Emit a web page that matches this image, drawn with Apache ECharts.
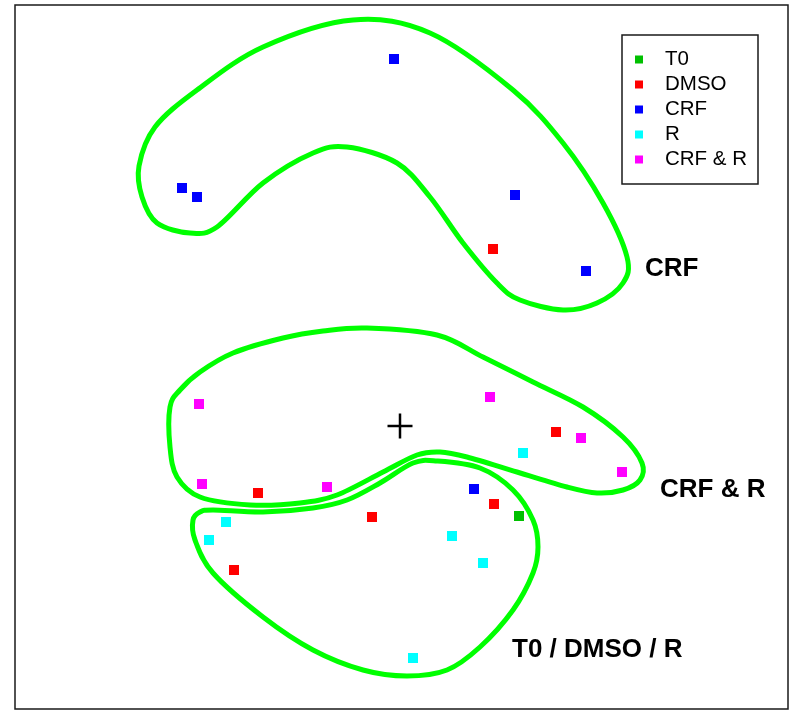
<!DOCTYPE html>
<html>
<head>
<meta charset="utf-8">
<script src="https://cdn.jsdelivr.net/npm/echarts@6/dist/echarts.min.js"></script>
<style>html,body{margin:0;padding:0;background:#fff}#c{width:794px;height:711px}</style>
</head>
<body>
<div id="c"></div>
<script>
// Group names (legend)
const groups = ['T0', 'DMSO', 'CRF', 'R', 'CRF & R'];
const groupColors = ['#00C000', '#FF0000', '#0000FF', '#00FFFF', '#FF00FF'];

// Sample scores [PC1, PC2]
const t0Points = [[1.19, -0.90]];
const dmsoPoints = [[0.93, 1.77], [1.56, -0.06], [-1.42, -0.67], [0.94, -0.78], [-0.28, -0.91], [-1.66, -1.44]];
const crfPoints = [[-0.06, 3.67], [-2.18, 2.38], [-2.03, 2.29], [1.15, 2.31], [1.86, 1.55], [0.74, -0.63]];
const rPoints = [[1.23, -0.27], [-1.74, -0.96], [-1.91, -1.14], [0.52, -1.10], [0.83, -1.37], [0.13, -2.32]];
const crfRPoints = [[-2.01, 0.22], [0.90, 0.29], [1.81, -0.12], [2.22, -0.46], [-1.98, -0.58], [-0.73, -0.61]];

// Origin marker
const originPoint = [[0, 0]];

// Hand-drawn group outlines (data units)
const crfOutline = [[-0.47,4.06],[0.30,3.93],[1.13,3.36],[1.63,2.83],[2.03,2.23],[2.27,1.69],[2.23,1.43],[1.97,1.23],[1.63,1.16],[1.20,1.26],[0.97,1.43],[0.63,1.83],[0.30,2.29],[-0.03,2.63],[-0.53,2.79],[-0.87,2.73],[-1.37,2.43],[-1.83,1.99],[-2.10,1.93],[-2.43,2.03],[-2.58,2.29],[-2.61,2.60],[-2.45,2.99],[-2.03,3.36],[-1.37,3.79]];
const crfROutline = [[-0.33,0.98],[0.37,0.91],[0.83,0.69],[1.33,0.44],[1.83,0.19],[2.23,-0.11],[2.42,-0.37],[2.40,-0.54],[2.23,-0.64],[1.97,-0.67],[1.67,-0.61],[1.17,-0.46],[0.67,-0.31],[0.40,-0.26],[0.17,-0.29],[-0.17,-0.46],[-0.63,-0.69],[-1.00,-0.77],[-1.50,-0.79],[-2.00,-0.71],[-2.23,-0.51],[-2.30,-0.21],[-2.30,0.19],[-2.20,0.36],[-2.00,0.54],[-1.67,0.73],[-1.17,0.88],[-0.77,0.95]];
const t0Outline = [[0.37,-0.35],[0.80,-0.42],[1.13,-0.64],[1.33,-0.94],[1.38,-1.21],[1.33,-1.47],[1.13,-1.84],[0.80,-2.21],[0.47,-2.44],[0.07,-2.50],[-0.37,-2.44],[-0.87,-2.24],[-1.37,-1.91],[-1.87,-1.47],[-2.05,-1.14],[-2.07,-0.94],[-2.00,-0.86],[-1.87,-0.84],[-1.37,-0.86],[-0.87,-0.82],[-0.53,-0.74],[-0.20,-0.57],[0.13,-0.37]];
const outlines = [crfOutline, crfROutline, t0Outline];

// Cluster labels
const clusterLabels = ['CRF', 'CRF & R', 'T0 / DMSO / R'];

const groupData = [t0Points, dmsoPoints, crfPoints, rPoints, crfRPoints];

// closed Catmull-Rom spline through pixel points -> SVG path data
function closedSplinePath(pts) {
  const n = pts.length;
  let d = 'M' + pts[0][0] + ',' + pts[0][1];
  for (let i = 0; i < n; i++) {
    const p0 = pts[(i - 1 + n) % n], p1 = pts[i], p2 = pts[(i + 1) % n], p3 = pts[(i + 2) % n];
    const c1x = p1[0] + (p2[0] - p0[0]) / 6, c1y = p1[1] + (p2[1] - p0[1]) / 6;
    const c2x = p2[0] - (p3[0] - p1[0]) / 6, c2y = p2[1] - (p3[1] - p1[1]) / 6;
    d += 'C' + c1x + ',' + c1y + ',' + c2x + ',' + c2y + ',' + p2[0] + ',' + p2[1];
  }
  return d + 'Z';
}

const chart = echarts.init(document.getElementById('c'), null, {renderer: 'canvas'});

const scatterSeries = groups.map((g, i) => ({
  name: g,
  type: 'scatter',
  symbol: 'rect',
  symbolSize: 10,
  data: groupData[i],
  itemStyle: {color: groupColors[i], opacity: 1},
  z: 5,
  silent: true
}));

const labelFont = 'bold 26px "Liberation Sans", Arial, sans-serif';

const option = {
  animation: false,
  backgroundColor: '#fff',
  grid: {left: 15, right: 6, top: 5, bottom: 2, show: true, borderColor: '#1a1a1a', borderWidth: 1.5, backgroundColor: 'transparent'},
  xAxis: {type: 'value', min: -3.85, max: 3.88, show: false},
  yAxis: {type: 'value', min: -2.83, max: 4.21, show: false},
  legend: {
    data: groups,
    orient: 'vertical',
    left: 622, top: 35,
    borderColor: '#1a1a1a', borderWidth: 1.5,
    padding: [14, 11, 14, 13],
    itemWidth: 8, itemHeight: 8, itemGap: 4,
    icon: 'rect',
    selectedMode: false,
    textStyle: {fontSize: 20.5, fontFamily: 'Liberation Sans, Arial, sans-serif', color: '#000', padding: [0, 0, 0, 17]}
  },
  graphic: [
    {type: 'text', left: 645, top: 256, style: {text: clusterLabels[0], font: labelFont, fill: '#000'}},
    {type: 'text', left: 660, top: 477, style: {text: clusterLabels[1], font: labelFont, fill: '#000'}},
    {type: 'text', left: 512, top: 637, style: {text: clusterLabels[2], font: labelFont, fill: '#000'}}
  ],
  series: [
    {
      type: 'custom',
      silent: true,
      z: 2,
      data: outlines.map(() => [0, 0]),
      renderItem: (params, api) => {
        const pts = outlines[params.dataIndex].map(p => api.coord(p));
        return {type: 'path', shape: {pathData: closedSplinePath(pts)}, style: {fill: 'none', stroke: '#00FF00', lineWidth: 5}};
      }
    },
    {
      type: 'custom',
      silent: true,
      z: 3,
      data: originPoint,
      renderItem: (params, api) => {
        const c = api.coord([api.value(0), api.value(1)]);
        const h = 12.5;
        return {type: 'group', children: [
          {type: 'line', shape: {x1: c[0] - h, y1: c[1], x2: c[0] + h, y2: c[1]}, style: {stroke: '#000', lineWidth: 2.5}},
          {type: 'line', shape: {x1: c[0], y1: c[1] - h, x2: c[0], y2: c[1] + h}, style: {stroke: '#000', lineWidth: 2.5}}
        ]};
      }
    },
    ...scatterSeries
  ]
};
chart.setOption(option);
</script>
</body>
</html>
